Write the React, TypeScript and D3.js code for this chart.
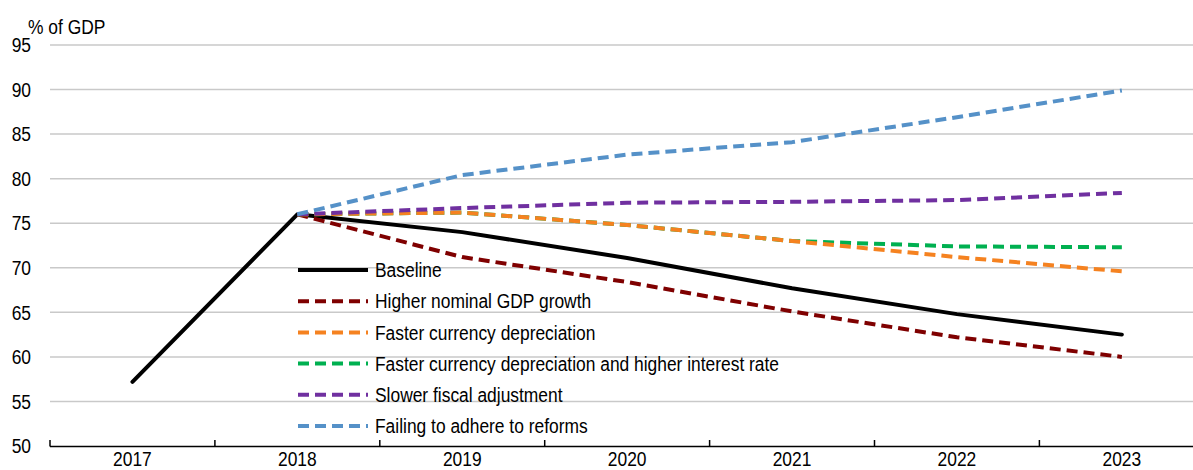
import React from "react";
import * as d3 from "d3";

const years = ["2017", "2018", "2019", "2020", "2021", "2022", "2023"];
const yTicks = [50, 55, 60, 65, 70, 75, 80, 85, 90, 95];

const baseline = [57.2, 76.0, 74.0, 71.1, 67.7, 64.8, 62.5];
const higherGrowth = [null, 76.0, 71.2, 68.4, 65.1, 62.2, 60.0];
const fasterDep = [null, 76.0, 76.2, 74.8, 73.0, 71.2, 69.6];
const fasterDepRate = [null, 76.0, 76.2, 74.8, 73.0, 72.4, 72.3];
const slowerFiscal = [null, 76.0, 76.7, 77.3, 77.4, 77.6, 78.4];
const failingReforms = [null, 76.0, 80.4, 82.7, 84.1, 86.9, 89.9];

type S = { name: string; values: (number | null)[]; color: string; dashed: boolean };

const series: S[] = [
  { name: "Baseline", values: baseline, color: "#000000", dashed: false },
  { name: "Higher nominal GDP growth", values: higherGrowth, color: "#7f0000", dashed: true },
  { name: "Faster currency depreciation", values: fasterDep, color: "#f58220", dashed: true },
  { name: "Faster currency depreciation and higher interest rate", values: fasterDepRate, color: "#00b050", dashed: true },
  { name: "Slower fiscal adjustment", values: slowerFiscal, color: "#7030a0", dashed: true },
  { name: "Failing to adhere to reforms", values: failingReforms, color: "#5591c8", dashed: true },
];

const drawOrder = [0, 1, 3, 2, 4, 5];

const SX = 0.87;

function T(props: { x: number; y: number; anchor?: string; children: React.ReactNode; dy?: string }) {
  return (
    <text
      transform={`translate(${props.x},${props.y}) scale(${SX},1)`}
      textAnchor={props.anchor || "start"}
      dy={props.dy}
      fontSize={20}
      fill="#000"
    >
      {props.children}
    </text>
  );
}

export default function App() {
  const W = 1193;
  const H = 470;
  const x = d3.scaleBand<string>().domain(years).range([50, 50 + 7 * 164.9]);
  const y = d3.scaleLinear().domain([50, 95]).range([446, 45]);
  const font = "'Liberation Sans', Arial, sans-serif";

  const line = d3
    .line<number | null>()
    .defined((d) => d !== null)
    .x((_, i) => (x(years[i]) as number) + x.bandwidth() / 2)
    .y((d) => y(d as number));

  const ticksX = d3.range(years.length + 1).map((i) => 50 + i * x.step());

  return (
    <svg width={W} height={H} style={{ position: "absolute", left: 0, top: 0, background: "#fff" }} fontFamily={font}>
      {yTicks.map((t) => (
        <g key={t}>
          {t > 50 && <line x1={50} x2={W} y1={y(t)} y2={y(t)} stroke="#c9c9c9" strokeWidth={1.5} />}
          <T x={31} y={y(t)} dy="0.36em" anchor="end">
            {t}
          </T>
        </g>
      ))}
      <T x={28} y={34}>% of GDP</T>

      <line x1={50} x2={W} y1={446.5} y2={446.5} stroke="#000" strokeWidth={1.5} />
      {ticksX.map((tx, i) => (
        <line key={i} x1={tx} x2={tx} y1={440} y2={446.5} stroke="#000" strokeWidth={1.5} />
      ))}
      {years.map((yr) => (
        <T key={yr} x={(x(yr) as number) + x.bandwidth() / 2} y={465.5} anchor="middle">
          {yr}
        </T>
      ))}

      {drawOrder.map((i) => {
        const s = series[i];
        return (
          <path
            key={s.name}
            d={line(s.values) || ""}
            fill="none"
            stroke={s.color}
            strokeWidth={4}
            strokeDasharray={s.dashed ? "11,6" : undefined}
            strokeLinejoin="round"
            strokeLinecap={s.dashed ? "butt" : "round"}
          />
        );
      })}

      {series.map((s, i) => {
        const ly = 270 + i * 31.2;
        return (
          <g key={s.name}>
            <line
              x1={298}
              x2={368}
              y1={ly}
              y2={ly}
              stroke={s.color}
              strokeWidth={4}
              strokeDasharray={s.dashed ? "11,6" : undefined}
            />
            <T x={375} y={ly} dy="0.36em">
              {s.name}
            </T>
          </g>
        );
      })}
    </svg>
  );
}
